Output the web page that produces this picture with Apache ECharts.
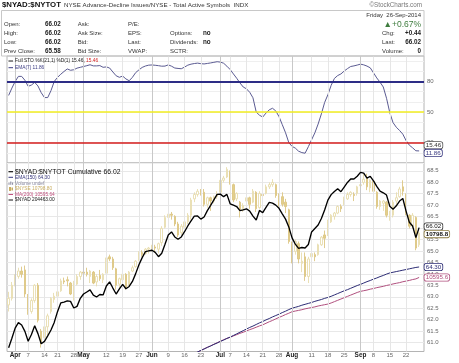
<!DOCTYPE html>
<html><head><meta charset="utf-8">
<script src="https://cdn.jsdelivr.net/npm/echarts@6/dist/echarts.min.js"></script>
<style>html,body{margin:0;padding:0;background:#fff}#c{width:459px;height:363px}</style>
</head><body><div id="c"></div><script>
// ---------- data ----------
const dates = ["03-28","03-31",
"04-01","04-02","04-03","04-04","04-07","04-08","04-09","04-10","04-11","04-14","04-15","04-16","04-17","04-21","04-22","04-23","04-24","04-25","04-28","04-29","04-30",
"05-01","05-02","05-05","05-06","05-07","05-08","05-09","05-12","05-13","05-14","05-15","05-16","05-19","05-20","05-21","05-22","05-23","05-27","05-28","05-29","05-30",
"06-02","06-03","06-04","06-05","06-06","06-09","06-10","06-11","06-12","06-13","06-16","06-17","06-18","06-19","06-20","06-23","06-24","06-25","06-26","06-27","06-30",
"07-01","07-02","07-03","07-07","07-08","07-09","07-10","07-11","07-14","07-15","07-16","07-17","07-18","07-21","07-22","07-23","07-24","07-25","07-28","07-29","07-30","07-31",
"08-01","08-04","08-05","08-06","08-07","08-08","08-11","08-12","08-13","08-14","08-15","08-18","08-19","08-20","08-21","08-22","08-25","08-26","08-27","08-28","08-29",
"09-02","09-03","09-04","09-05","09-08","09-09","09-10","09-11","09-12","09-15","09-16","09-17","09-18","09-19","09-22","09-23","09-24","09-25","09-26"];
const padCategory = "09-29";

const tickLabels = [["04-01","Apr"],["04-07","7"],["04-14","14"],["04-21","21"],["04-28","28"],["05-01","May"],["05-12","12"],["05-19","19"],["05-27","27"],["06-02","Jun"],["06-09","9"],["06-16","16"],["06-23","23"],["07-01","Jul"],["07-07","7"],["07-14","14"],["07-21","21"],["07-28","28"],["08-01","Aug"],["08-11","11"],["08-18","18"],["08-25","25"],["09-02","Sep"],["09-08","8"],["09-15","15"],["09-22","22"]];
const monthNames = ["Apr","May","Jun","Jul","Aug","Sep"];

// $NYAD:$NYTOT cumulative (black line)
const ratioValues = [60.77,61.19,61.63,61.87,61.77,61.49,61.06,61.35,61.73,61.39,
60.95,61.05,61.29,61.55,61.88,62.35,62.73,62.77,62.82,62.80,
62.51,62.58,62.93,63.12,63.21,63.30,63.07,62.99,63.10,63.08,
63.47,63.65,63.38,63.12,63.34,63.54,63.35,63.45,63.67,64.01,
64.40,64.71,64.97,65.00,65.03,64.94,64.75,64.90,65.29,65.70,
65.83,65.61,65.51,65.61,65.84,66.09,66.31,66.52,66.53,66.39,
66.48,66.76,66.99,67.23,67.47,67.48,67.37,67.47,67.06,67.00,
66.94,66.76,66.79,66.84,66.74,66.52,66.35,66.77,66.67,66.90,
67.12,67.09,67.00,66.86,66.62,66.39,66.05,65.57,65.30,65.11,
65.15,65.13,65.28,65.83,65.98,66.13,66.42,66.79,67.22,67.46,
67.60,67.72,67.59,67.79,67.99,68.14,68.14,68.26,68.43,68.40,
68.18,68.26,68.06,67.82,67.61,67.54,67.44,66.95,66.82,66.97,
67.18,67.29,66.74,66.25,66.09,65.58,66.02];

// Full STO panel line
const stoValues = [66.3,73.5,80,85,85,81.2,75.2,76.5,79.1,75.6,
69,64.2,64.2,71,80,84,87.1,89.8,92.3,91,
91.5,93.1,93.9,94.7,95.5,96.4,95.3,95.3,95.6,93.9,
94.3,93.2,89.3,85.6,84.1,85.3,82.5,80.7,84.1,88.7,
91.4,93.8,95.2,96,96.2,95.9,95.5,95,95.1,96.3,
95,93.2,92.8,92.5,94.1,96,97,97.6,98,97.5,
97.2,97.7,98.2,98.8,99.4,99,97.9,95,91.7,87.4,
83.2,78.6,74.6,72.8,69.4,64,50,46.9,45.1,49,
52.2,53.7,51.1,45.5,37.6,29.7,20,16.3,14.6,11.6,
10.2,9.6,16,22.8,29.6,38.2,48.2,59.4,67,76.2,
83,85.8,87.4,90.2,92.6,94.7,95.3,96.1,97,96.3,
95.1,93.4,88.5,83.5,79.3,74.6,63.5,49.4,39.6,35.1,
31.9,28.3,22,17.5,14.9,12,11.86];
const stoLevels = [80, 50, 20];

// $NYSE overlay candles: [open, close, low, high]
const nyseOHLC = [
[10470,10500,10440,10530],[10500,10560,10490,10575],[10560,10600,10555,10610],[10600,10625,10590,10640],[10625,10610,10595,10645],
[10630,10520,10505,10650],[10510,10440,10425,10520],[10440,10490,10430,10500],[10490,10560,10480,10565],[10560,10400,10390,10570],
[10350,10300,10275,10360],[10320,10370,10300,10385],[10370,10420,10330,10430],[10440,10500,10430,10505],[10495,10510,10480,10525],
[10510,10530,10495,10540],[10535,10580,10530,10590],[10580,10575,10565,10595],[10585,10580,10555,10600],[10570,10520,10515,10575],
[10530,10560,10490,10580],[10565,10600,10560,10610],[10600,10620,10585,10625],[10620,10615,10600,10635],[10620,10610,10600,10640],
[10600,10625,10570,10630],[10620,10570,10565,10625],[10575,10600,10555,10610],[10605,10590,10580,10630],[10585,10610,10570,10615],
[10615,10685,10610,10690],[10690,10680,10670,10700],[10680,10640,10630,10690],[10635,10560,10540,10640],[10565,10590,10545,10595],
[10585,10610,10570,10615],[10610,10550,10540,10615],[10560,10620,10555,10625],[10625,10640,10620,10650],[10645,10670,10640,10675],
[10675,10710,10670,10715],[10710,10700,10690,10720],[10705,10725,10700,10730],[10725,10730,10705,10735],[10735,10740,10715,10745],
[10735,10730,10710,10745],[10725,10750,10705,10755],[10755,10820,10740,10830],[10825,10870,10820,10880],[10870,10885,10865,10900],
[10885,10880,10860,10895],[10875,10840,10830,10880],[10840,10790,10780,10850],[10800,10830,10790,10840],[10825,10850,10805,10860],
[10850,10880,10840,10890],[10880,10950,10860,10960],[10955,10975,10940,10985],[10975,10990,10965,11000],[10990,10985,10970,11000],
[10985,10930,10920,11000],[10930,10960,10915,10965],[10960,10945,10900,10965],[10945,10965,10935,10970],[10965,10975,10955,10990],
[10985,11040,10980,11050],[11040,11050,11030,11060],[11055,11090,11050,11100],[11080,11030,11020,11085],[11020,10950,10940,11025],
[10955,10980,10945,10985],[10940,10905,10870,10945],[10910,10925,10895,10935],[10945,10960,10940,10975],[10960,10930,10910,10965],
[10940,10990,10935,11000],[10985,10910,10895,10990],[10915,10980,10910,10990],[10975,10970,10945,10980],[10980,11010,10975,11020],
[11010,11020,11000,11030],[11020,11030,11010,11045],[11020,10970,10960,11025],[10970,10960,10920,10980],[10965,10930,10920,10985],
[10940,10920,10890,10955],[10905,10760,10750,10910],[10750,10710,10660,10760],[10715,10760,10700,10770],[10750,10680,10660,10760],
[10660,10670,10620,10710],[10690,10600,10580,10710],[10600,10680,10570,10690],[10690,10705,10685,10730],[10700,10690,10670,10710],
[10700,10745,10695,10750],[10745,10780,10740,10785],[10790,10775,10730,10810],[10790,10850,10785,10860],[10850,10880,10845,10885],
[10875,10890,10860,10895],[10890,10920,10885,10925],[10920,10910,10895,10930],[10930,10950,10925,10965],[10955,10975,10950,10985],
[10975,10985,10965,10990],[10975,10970,10945,10985],[10980,11010,10970,11015],[11015,11020,10995,11030],[11030,11045,11020,11070],
[11050,11010,10995,11070],[11005,11040,10985,11045],[11035,10990,10975,11040],[10985,10920,10910,10990],[10920,10945,10905,10950],
[10935,10945,10900,10950],[10940,10880,10870,10945],[10880,10885,10855,10900],[10880,10940,10870,10950],[10945,10960,10920,10985],
[10965,11000,10960,11010],[11010,10990,10970,11040],[10975,10890,10880,10980],[10880,10830,10820,10885],[10830,10880,10820,10890],
[10870,10730,10720,10875],[10745,10798.8,10735,10805]];

// overlays visible from mid-June
const overlayStart = "06-18";
const ema150Values = [60.46,60.52,60.59,60.66,60.72,60.79,60.85,60.92,60.98,61.05,
61.11,61.18,61.24,61.31,61.38,61.45,61.52,61.59,61.66,61.72,
61.79,61.86,61.92,61.99,62.05,62.12,62.18,62.24,62.31,62.37,
62.44,62.50,62.54,62.58,62.63,62.67,62.71,62.75,62.80,62.84,
62.88,62.93,62.97,63.02,63.08,63.14,63.20,63.26,63.31,63.37,
63.43,63.49,63.54,63.60,63.66,63.71,63.77,63.82,63.88,63.93,
63.99,64.04,64.07,64.10,64.13,64.16,64.19,64.22,64.25,64.28,64.30];
const ma200Values = [10240,10247,10254,10261,10269,10276,10283,10290,10297,10304,
10311,10317,10322,10328,10334,10340,10345,10351,10357,10362,
10368,10374,10379,10386,10393,10399,10406,10413,10419,10426,
10432,10439,10442,10445,10448,10452,10455,10458,10461,10465,
10468,10471,10474,10479,10485,10491,10497,10503,10509,10515,
10521,10527,10532,10535,10538,10542,10545,10549,10552,10555,
10559,10562,10566,10569,10572,10576,10579,10582,10586,10589,10595.64];

const ratioTicks = [61,61.5,62,62.5,63,63.5,64,64.5,65,65.5,66,66.5,67,67.5,68,68.5];
const stoGridTicks = [0,10,20,30,40,50,60,70,80,90,100];

// ---------- chart ----------
const FF = '"Liberation Sans", Arial, sans-serif';
const cats = dates.concat([padCategory]);
const labelMap = new Map(tickLabels);
const startPos = dates.indexOf(overlayStart);
const overlayDates = dates.slice(startPos);

function gridMarks() {
  return tickLabels.map(([d, t]) => ({xAxis: d, lineStyle: {color: monthNames.includes(t) ? '#c8c8c8' : '#e6e6e6', width: 1, type: 'solid'}}));
}

const chart = echarts.init(document.getElementById('c'), null, {renderer: 'canvas'});
const option = {
  animation: false,
  backgroundColor: '#fff',
  grid: [
    {left: 7, top: 56, width: 417, height: 107, show: true, borderColor: '#b4b4b4', borderWidth: 1, backgroundColor: '#fff'},
    {left: 7, top: 163, width: 417, height: 188.5, show: true, borderColor: '#b4b4b4', borderWidth: 1, backgroundColor: '#fff'}
  ],
  xAxis: [
    {gridIndex: 0, type: 'category', data: cats, boundaryGap: true, axisLine: {show: false}, axisTick: {show: false}, axisLabel: {show: false}, splitLine: {show: false}},
    {gridIndex: 1, type: 'category', data: cats, boundaryGap: true, axisLine: {show: false}, axisTick: {show: false}, splitLine: {show: false},
     axisLabel: {show: true, margin: 1, interval: (i, v) => labelMap.has(v), hideOverlap: false,
       formatter: (v) => { const t = labelMap.get(v) || ''; return monthNames.includes(t) ? '{m|' + t + '}' : '{d|' + t + '}'; },
       rich: {m: {fontFamily: FF, fontWeight: 'bold', fontSize: 6.4, color: '#222'}, d: {fontFamily: FF, fontSize: 6, color: '#666'}}}}
  ],
  yAxis: [
    {gridIndex: 0, type: 'value', position: 'right', min: 0, max: 105,
     axisLine: {show: false}, axisTick: {show: false, customValues: stoGridTicks},
     axisLabel: {customValues: stoLevels, fontFamily: FF, fontSize: 6, color: '#666', margin: 3},
     splitLine: {show: true, lineStyle: {color: '#efefef', width: 1}}},
    {gridIndex: 1, type: 'value', position: 'right', min: 60.61, max: 68.84,
     axisLine: {show: false}, axisTick: {show: false, customValues: ratioTicks},
     axisLabel: {customValues: ratioTicks, fontFamily: FF, fontSize: 6, color: '#666', margin: 3, formatter: v => v.toFixed(1)},
     splitLine: {show: true, lineStyle: {color: '#e8e8e8', width: 1}}},
    {gridIndex: 1, type: 'value', min: 10257, max: 11119, show: false}
  ],
  series: [
    {type: 'line', xAxisIndex: 0, yAxisIndex: 0, data: [], z: 1, silent: true,
     markLine: {silent: true, symbol: ['none', 'none'], label: {show: false}, animation: false, data: gridMarks()}},
    {type: 'line', xAxisIndex: 1, yAxisIndex: 1, data: [], z: 1, silent: true,
     markLine: {silent: true, symbol: ['none', 'none'], label: {show: false}, animation: false, data: gridMarks()}},
    {name: 'STO', type: 'line', xAxisIndex: 0, yAxisIndex: 0, data: stoValues, symbol: 'none', z: 4,
     lineStyle: {color: '#5b5b92', width: 1},
     markLine: {silent: true, symbol: ['none', 'none'], label: {show: false}, animation: false,
       data: [
         {yAxis: stoLevels[0], lineStyle: {color: '#2d2d86', width: 2, type: 'solid'}},
         {yAxis: stoLevels[1], lineStyle: {color: '#f2ee20', width: 1.5, type: 'solid'}},
         {yAxis: stoLevels[2], lineStyle: {color: '#d41c1c', width: 1.5, type: 'solid'}}
       ]}},
    {name: '$NYSE', type: 'candlestick', xAxisIndex: 1, yAxisIndex: 2, data: nyseOHLC, barWidth: 2, z: 2,
     itemStyle: {color: '#ffffff', color0: '#e3cf8c', borderColor: '#e8dcae', borderColor0: '#dcc683', borderWidth: 0.9}},
    {name: 'MA(200)', type: 'line', xAxisIndex: 1, yAxisIndex: 2, data: overlayDates.map((d, i) => [d, ma200Values[i]]), symbol: 'none', z: 3,
     lineStyle: {color: '#b0507e', width: 1}},
    {name: 'EMA(150)', type: 'line', xAxisIndex: 1, yAxisIndex: 1, data: overlayDates.map((d, i) => [d, ema150Values[i]]), symbol: 'none', z: 3,
     lineStyle: {color: '#2c2c74', width: 1}},
    {name: '$NYAD:$NYTOT', type: 'line', xAxisIndex: 1, yAxisIndex: 1, data: ratioValues, symbol: 'none', z: 5,
     lineStyle: {color: '#000000', width: 1.35}}
  ]
};
chart.setOption(option);

// ---------- text / decorations ----------
function T(x, y, text, size, fill, o) {
  o = o || {};
  return {type: 'text', x: x, y: y, z: 100, silent: true,
    style: Object.assign({text: text, fill: fill, font: (o.bold ? 'bold ' : '') + size + 'px ' + FF,
      textAlign: o.align || 'left', textVerticalAlign: 'middle'}, o.style || {})};
}
function L(x1, y1, x2, y2, color, w) {
  return {type: 'line', z: 100, silent: true, shape: {x1, y1, x2, y2}, style: {stroke: color, lineWidth: w || 1}};
}
const g = [];
// header
g.push(T(2, 5, '$NYAD:$NYTOT', 7.8, '#111', {bold: true}));
g.push(T(64, 5.2, 'NYSE Advance-Decline Issues/NYSE - Total Active Symbols  INDX', 6.2, '#333'));
g.push(T(422, 5.2, '\u00a9StockCharts.com', 6.3, '#777', {align: 'right'}));
g.push({type: 'rect', z: 90, silent: true, shape: {x: 1.5, y: 10.5, width: 422.5, height: 45.5}, style: {fill: 'none', stroke: '#c8c8c8', lineWidth: 1}});
const rows = [24.3, 33.3, 42.7, 51.7];
[['Open:', '66.02'], ['High:', '66.02'], ['Low:', '66.02'], ['Prev Close:', '65.58']].forEach((r, i) => {
  g.push(T(4, rows[i], r[0], 6, '#333'));
  g.push(T(45, rows[i], r[1], 6.3, '#222', {bold: true}));
});
['Ask:', 'Ask Size:', 'Bid:', 'Bid Size:'].forEach((t, i) => g.push(T(77.7, rows[i], t, 6, '#333')));
['P/E:', 'EPS:', 'Last:', 'VWAP:'].forEach((t, i) => g.push(T(128, rows[i], t, 6, '#333')));
[['', ''], ['Options:', 'no'], ['Dividends:', 'no'], ['SCTR:', '']].forEach((r, i) => {
  if (r[0]) g.push(T(170, rows[i], r[0], 6, '#333'));
  if (r[1]) g.push(T(203, rows[i], r[1], 6.3, '#222', {bold: true}));
});
g.push(T(421, 15, 'Friday  26-Sep-2014', 6, '#333', {align: 'right'}));
g.push(T(421, 24.5, '\u25B2+0.67%', 8.5, '#3e7c3e', {align: 'right'}));
[['Chg:', '+0.44'], ['Last:', '66.02'], ['Volume:', '0']].forEach((r, i) => {
  g.push(T(382, rows[i + 1], r[0], 6, '#333'));
  g.push(T(421, rows[i + 1], r[1], 6.3, '#222', {bold: true, align: 'right'}));
});
// STO legend
g.push(L(8.5, 61, 13, 61, '#222', 1));
g.push({type: 'text', x: 15, y: 61, z: 100, silent: true, style: {text: '{a|Full STO %K(21,1) %D(1) 15.46, }{b|15.46}', textVerticalAlign: 'middle',
  rich: {a: {fontFamily: FF, fontSize: 4.8, fill: '#222'}, b: {fontFamily: FF, fontSize: 4.8, fill: '#d42020'}}}});
g.push(L(8.5, 67.7, 13, 67.7, '#3a3a80', 1));
g.push(T(15, 67.7, 'EMA(7) 11.86', 4.8, '#3a3a80'));
// price panel legend
g.push(L(8.5, 171.7, 13, 171.7, '#111', 1.2));
g.push(T(15, 171.8, '$NYAD:$NYTOT Cumulative 66.02', 6.8, '#111'));
const legRows = [
  [177.3, 'EMA(150) 64.30', '#34347a', 'line'],
  [183.3, 'Volume undef', '#8888a0', 'bars'],
  [189, '$NYSE 10798.80', '#c9ad62', 'candle'],
  [194.5, 'MA(200) 10595.64', '#c0507e', 'line'],
  [200, '$NYAD 204463.00', '#111', 'line']
];
legRows.forEach(([y, t, c, k]) => {
  if (k === 'line') g.push(L(8.5, y, 13, y, c, 1));
  else if (k === 'bars') { g.push(L(9, y + 1.5, 9, y - 0.5, c, 1)); g.push(L(10.8, y + 1.5, 10.8, y - 1.8, c, 1)); g.push(L(12.6, y + 1.5, 12.6, y - 0.8, c, 1)); }
  else { g.push({type: 'rect', z: 100, silent: true, shape: {x: 9, y: y - 2, width: 2, height: 4}, style: {fill: c}}); g.push({type: 'rect', z: 100, silent: true, shape: {x: 11.5, y: y - 1.5, width: 1.5, height: 3}, style: {fill: c}}); }
  g.push(T(15, y, t, 4.8, c));
});

// right-side value boxes, positioned through the axes
function yPix(axisIdx, v) { return chart.convertToPixel({yAxisIndex: axisIdx}, v); }
function spread(items) {
  items.sort((a, b) => a.y - b.y);
  for (let i = 1; i < items.length; i++) {
    const gap = items[i].y - items[i - 1].y;
    if (gap < 7.6) { const d = (7.6 - gap) / 2; items[i - 1].y -= d; items[i].y += d; }
  }
  return items;
}
const boxesA = spread([
  {y: yPix(1, ratioValues[ratioValues.length - 1]), t: ratioValues[ratioValues.length - 1].toFixed(2), c: '#111', b: '#333', bold: false},
  {y: yPix(2, nyseOHLC[nyseOHLC.length - 1][1]), t: nyseOHLC[nyseOHLC.length - 1][1].toFixed(1), c: '#111', b: '#8a7a40', bold: true}
]);
const boxesB = spread([
  {y: yPix(1, ema150Values[ema150Values.length - 1]), t: ema150Values[ema150Values.length - 1].toFixed(2), c: '#2c2c74', b: '#2c2c74'},
  {y: yPix(2, ma200Values[ma200Values.length - 1]), t: ma200Values[ma200Values.length - 1].toFixed(1), c: '#b0507e', b: '#b0507e'}
]);
const boxesC = spread([
  {y: yPix(0, 15.46), t: '15.46', c: '#333', b: '#555'},
  {y: yPix(0, stoValues[stoValues.length - 1]), t: stoValues[stoValues.length - 1].toFixed(2), c: '#3a3a80', b: '#3a3a80'}
]);
boxesA.concat(boxesB, boxesC).forEach(b => {
  g.push({type: 'text', x: 424.5, y: b.y, z: 110, silent: true,
    style: {text: b.t, fill: b.c, font: (b.bold ? 'bold ' : '') + '6.2px ' + FF, textVerticalAlign: 'middle',
      backgroundColor: '#fff', borderColor: b.b, borderWidth: 0.8, borderRadius: 2, padding: [0.5, 1.2, 0, 1.2]}});
});
chart.setOption({graphic: g});
</script></body></html>
